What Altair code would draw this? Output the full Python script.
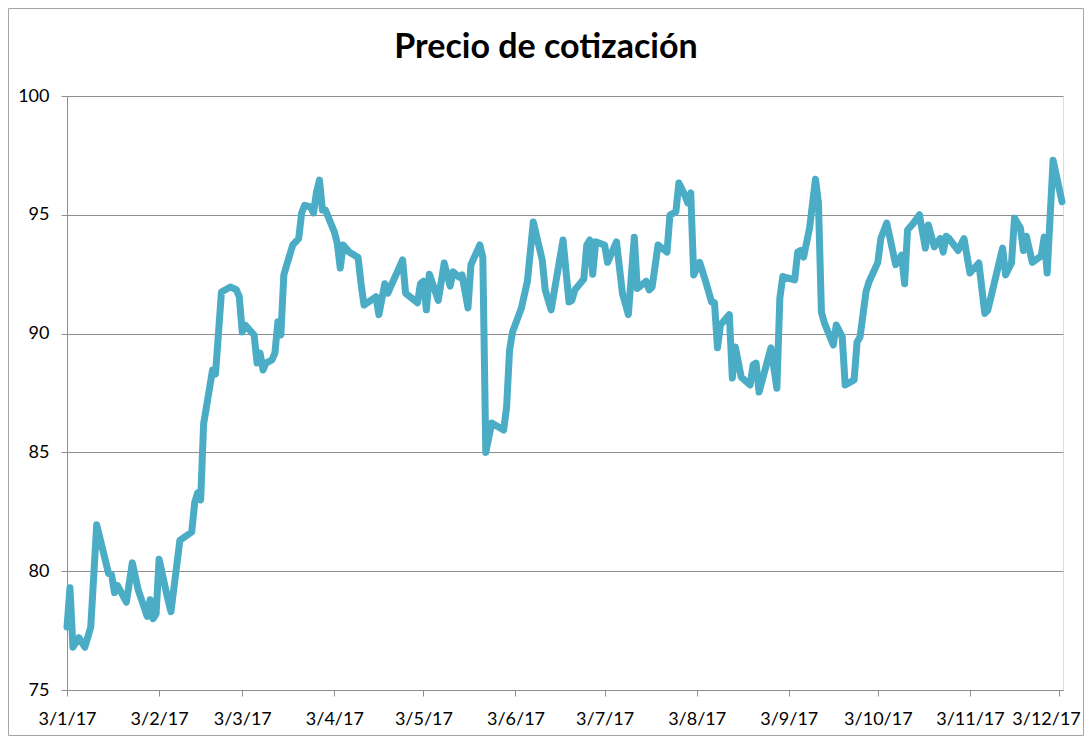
import altair as alt
import pandas as pd

# days since 3 Jan 2017
days = [0, 1, 2, 4, 6, 8, 10, 14, 15, 16, 17, 20, 22, 24, 27, 28, 29, 30, 31, 34,
        35, 38, 42, 43, 44, 45, 46, 49, 50, 52, 55, 57, 58, 59, 60, 63, 64, 65, 66, 67,
        69, 70, 71, 72, 73, 74, 76, 78, 79, 80, 82, 83, 84, 85, 86, 87, 90, 91, 92, 93,
        95, 98, 99, 100, 104, 105, 107, 108, 113, 114, 118, 119, 120, 121, 122, 125, 127, 129, 130, 132,
        133, 135, 136, 139, 140, 141, 143, 147, 148, 149, 150, 153, 155, 157, 160, 161, 163, 167, 169, 170,
        171, 174, 175, 176, 177, 178, 181, 182, 185, 187, 189, 191, 192, 195, 196, 197, 199, 202, 203, 205,
        206, 208, 209, 210, 211, 213, 215, 217, 218, 219, 220, 223, 224, 225, 227, 230, 231, 232, 233, 237,
        239, 240, 241, 245, 246, 247, 248, 250, 252, 253, 254, 255, 258, 259, 261, 262, 265, 266, 267, 269,
        270, 273, 274, 276, 279, 281, 282, 283, 285, 287, 289, 290, 292, 294, 295, 296, 297, 300, 302, 304,
        307, 309, 310, 315, 316, 318, 319, 321, 322, 323, 325, 328, 329, 330, 332, 335]

prices = [77.65, 79.3, 76.8, 77.2, 76.8, 77.65, 81.95, 79.9, 79.85, 79.1, 79.4, 78.7, 80.35, 79.2, 78.1, 78.8, 78.0, 78.2, 80.5, 78.8,
          78.3, 81.3, 81.65, 82.9, 83.3, 83.0, 86.2, 88.47, 88.3, 91.75, 91.96, 91.85, 91.55, 90.07, 90.36, 89.94, 88.76, 89.18, 88.47, 88.76,
          88.89, 89.18, 90.5, 89.94, 92.47, 92.9, 93.73, 94.0, 95.08, 95.4, 95.33, 95.08, 95.96, 96.46, 95.2, 95.2, 94.28, 93.8, 92.76, 93.73,
          93.43, 93.2, 92.1, 91.2, 91.55, 90.8, 92.1, 91.7, 93.1, 91.7, 91.3, 92.1, 92.2, 91.0, 92.5, 91.4, 92.97, 92.0, 92.6, 92.38,
          92.47, 91.08, 92.9, 93.73, 93.2, 85.0, 86.24, 85.94, 86.9, 89.3, 90.07, 91.08, 92.2, 94.7, 93.1, 91.84, 91.0, 93.94, 91.33, 91.4,
          91.84, 92.3, 93.73, 93.94, 92.5, 93.86, 93.73, 93.0, 93.86, 91.7, 90.8, 94.06, 91.9, 92.2, 91.84, 91.96, 93.73, 93.43, 94.99, 95.12,
          96.34, 95.83, 95.5, 95.92, 92.47, 93.0, 92.2, 91.33, 91.3, 89.4, 90.36, 90.8, 88.13, 89.44, 88.17, 87.84, 88.68, 88.76, 87.54, 89.4,
          87.7, 91.5, 92.4, 92.26, 93.43, 93.5, 93.22, 94.44, 96.5, 95.5, 90.9, 90.45, 89.52, 90.36, 89.86, 87.84, 88.05, 89.65, 89.86, 91.75,
          92.17, 93.0, 94.0, 94.65, 92.9, 93.3, 92.1, 94.36, 94.65, 95.0, 93.6, 94.57, 93.65, 94.0, 93.43, 94.1, 94.0, 93.5, 94.0, 92.55,
          92.97, 90.85, 90.98, 93.6, 92.47, 92.97, 94.86, 94.44, 93.5, 94.1, 93.0, 93.27, 94.06, 92.55, 97.3, 95.55]

y_ticks = [75, 80, 85, 90, 95, 100]
tick_months = list(range(1, 13))
title_text = "Precio de cotización"

start = pd.Timestamp("2017-01-03")
df = pd.DataFrame({
    "fecha": [start + pd.Timedelta(days=d) for d in days],
    "precio": prices,
})

W, H = 996, 594
PL, PT, PR, PB = 59, 88, 21, 46
FONT = "Lato"
GRID = "#8e8e8e"

x_enc = alt.X(
    "fecha:T",
    scale=alt.Scale(domain=[alt.DateTime(year=2017, month=1, date=3),
                            alt.DateTime(year=2017, month=12, date=4, hours=8)]),
    axis=alt.Axis(
        title=None,
        values=[alt.DateTime(year=2017, month=m, date=3) for m in tick_months],
        format="%-d/%-m/%y",
        grid=False,
        domainColor=GRID, tickColor=GRID, tickSize=6,
        labelFont=FONT, labelFontSize=18, labelColor="#000000",
        labelPadding=14, labelFlush=False, labelOverlap=False,
        labelOffset={"condition": {"test": "month(datum.value) == 11", "value": -13}, "value": 0},
    ),
)
y_enc = alt.Y(
    "precio:Q",
    scale=alt.Scale(domain=[75, 100], nice=False, zero=False),
    axis=alt.Axis(
        title=None, values=y_ticks,
        grid=True, gridColor=GRID, gridWidth=1,
        domainColor=GRID, tickColor=GRID, tickSize=6,
        labelFont=FONT, labelFontSize=18, labelColor="#000000",
        labelPadding=12,
    ),
)

line = alt.Chart(df).mark_line(
    color="#4BACC6", strokeWidth=7, strokeCap="round", strokeJoin="round"
).encode(x=x_enc, y=y_enc)

one = pd.DataFrame({"t": [title_text]})

title = alt.Chart(one).mark_text(
    font=FONT, fontSize=34, fontWeight="bold", color="#000000",
    align="center", baseline="alphabetic",
).encode(text="t:N", x=alt.value(546 - 67), y=alt.value(58 - 96))

frame = alt.Chart(one).mark_rect(
    filled=False, stroke="#a6a6a6", strokeWidth=1
).encode(
    x=alt.value(-PL + 0.5), x2=alt.value(W + PR - 0.5),
    y=alt.value(-PT + 0.5), y2=alt.value(H + PB - 0.5),
)

chart = alt.layer(line, title, frame).properties(
    width=W, height=H,
    autosize=alt.AutoSizeParams(type="none"),
    padding={"left": PL, "top": PT, "right": PR, "bottom": PB},
).configure_view(stroke=None).configure(background="white")

chart.save("out.html", embed_options={"renderer": "svg", "actions": False})
